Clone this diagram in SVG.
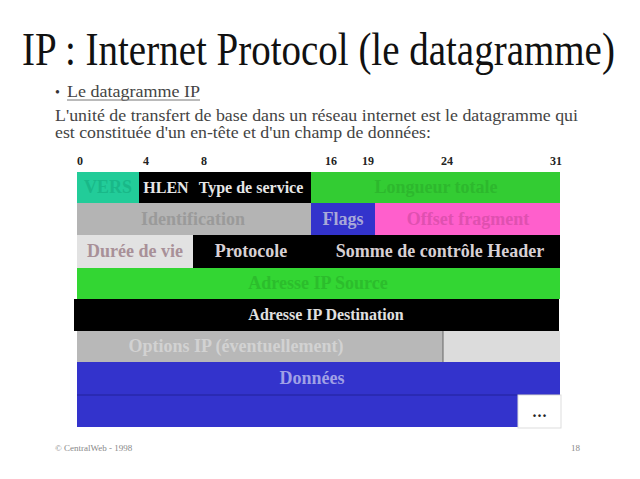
<svg xmlns="http://www.w3.org/2000/svg" width="640" height="479" viewBox="0 0 640 479">
<style>
.t{font-family:"Liberation Serif","Times New Roman",serif;}
.lbl{font-family:"Liberation Serif","Times New Roman",serif;font-weight:bold;font-size:18px;text-anchor:middle;}
.sm{font-size:16px;}
.bit{font-family:"Liberation Serif","Times New Roman",serif;font-weight:bold;font-size:12px;fill:#222;text-anchor:middle;}
</style>
<rect width="640" height="479" fill="#ffffff"/>
<g id="title">
<text class="t" transform="translate(22,65) scale(1,1.18)" x="0" y="0" font-size="39" fill="#111">IP : Internet Protocol (le datagramme)</text>
</g>
<g id="intro">
<text class="t" x="55" y="97" font-size="14" fill="#333">•</text>
<text class="t" x="67" y="97" font-size="16" fill="#444" textLength="133" lengthAdjust="spacingAndGlyphs">Le datagramme IP</text>
<line x1="67" y1="100" x2="200" y2="100" stroke="#777" stroke-width="1"/>
<text class="t" x="55" y="121" font-size="16" fill="#444" textLength="523" lengthAdjust="spacingAndGlyphs">L'unité de transfert de base dans un réseau internet est le datagramme qui</text>
<text class="t" x="55" y="138" font-size="16" fill="#444" textLength="376" lengthAdjust="spacingAndGlyphs">est constituée d'un en-tête et d'un champ de données:</text>
</g>
<g id="bits">
<text class="bit" x="80" y="165">0</text>
<text class="bit" x="146" y="165">4</text>
<text class="bit" x="204" y="165">8</text>
<text class="bit" x="331" y="165">16</text>
<text class="bit" x="368" y="165">19</text>
<text class="bit" x="447" y="165">24</text>
<text class="bit" x="556" y="165">31</text>
</g>
<g id="vers"><rect x="77" y="172" width="62" height="31" fill="#22cc99"/><text class="lbl" x="108" y="193" fill="#19b888">VERS</text></g>
<g id="hlen-tos"><rect x="139" y="172" width="172" height="31" fill="#000"/><text class="lbl sm" x="166" y="193" fill="#e6e6e6">HLEN</text><text class="lbl sm" x="251" y="193" fill="#e6e6e6">Type de service</text></g>
<g id="longueur"><rect x="311" y="172" width="249" height="31" fill="#33cc33"/><text class="lbl" x="436" y="193" fill="#2db82d">Longueur totale</text></g>
<g id="identification"><rect x="77" y="203" width="234" height="32" fill="#b4b4b4"/><text class="lbl" x="193" y="225" fill="#9a9a9a">Identification</text></g>
<g id="flags"><rect x="311" y="203" width="64" height="32" fill="#3333cc"/><text class="lbl" x="343" y="225" fill="#a8a8d8">Flags</text></g>
<g id="offset"><rect x="375" y="203" width="185" height="32" fill="#ff5fcc"/><text class="lbl" x="468" y="225" fill="#e050b0">Offset fragment</text></g>
<g id="ttl"><rect x="77" y="235" width="116" height="33" fill="#e2e2e2"/><text class="lbl" x="135" y="257" fill="#a89098">Durée de vie</text></g>
<g id="protocole"><rect x="193" y="235" width="367" height="33" fill="#000"/><text class="lbl" x="251" y="257" fill="#d8d0d4">Protocole</text><text class="lbl" x="440" y="257" fill="#d8d0d4">Somme de contrôle Header</text></g>
<g id="source"><rect x="77" y="268" width="483" height="31" fill="#33d633"/><text class="lbl" x="318" y="289" fill="#2cbd2c">Adresse IP Source</text></g>
<g id="destination"><rect x="74" y="299" width="485" height="32" fill="#000"/><text class="lbl sm" x="326" y="320" fill="#e0e0e0">Adresse  IP Destination</text></g>
<g id="options"><rect x="77" y="331" width="366" height="31" fill="#b8b8b8"/><rect x="443" y="331" width="117" height="31" fill="#dcdcdc"/><line x1="443" y1="331" x2="443" y2="362" stroke="#666" stroke-width="1"/><text class="lbl" x="236" y="352" fill="#d2d2d2">Options IP (éventuellement)</text></g>
<g id="donnees"><rect x="77" y="362" width="483" height="33" fill="#3333cc"/><rect x="77" y="395" width="441" height="32" fill="#3333cc"/><line x1="77" y1="395" x2="560" y2="395" stroke="#22229a" stroke-width="1"/><text class="lbl" x="312" y="384" fill="#a0a0e6">Données</text></g>
<g id="suite"><rect x="518" y="395" width="43" height="33" fill="#ffffff" stroke="#dddddd" stroke-width="1"/><text class="t" x="540" y="417" font-size="16" font-weight="bold" fill="#222" text-anchor="middle" letter-spacing="1">...</text></g>
<g id="footer">
<text class="t" x="55" y="451" font-size="9" fill="#888">© CentralWeb - 1998</text>
<text class="t" x="580" y="451" font-size="9" fill="#888" text-anchor="end">18</text>
</g>
</svg>
